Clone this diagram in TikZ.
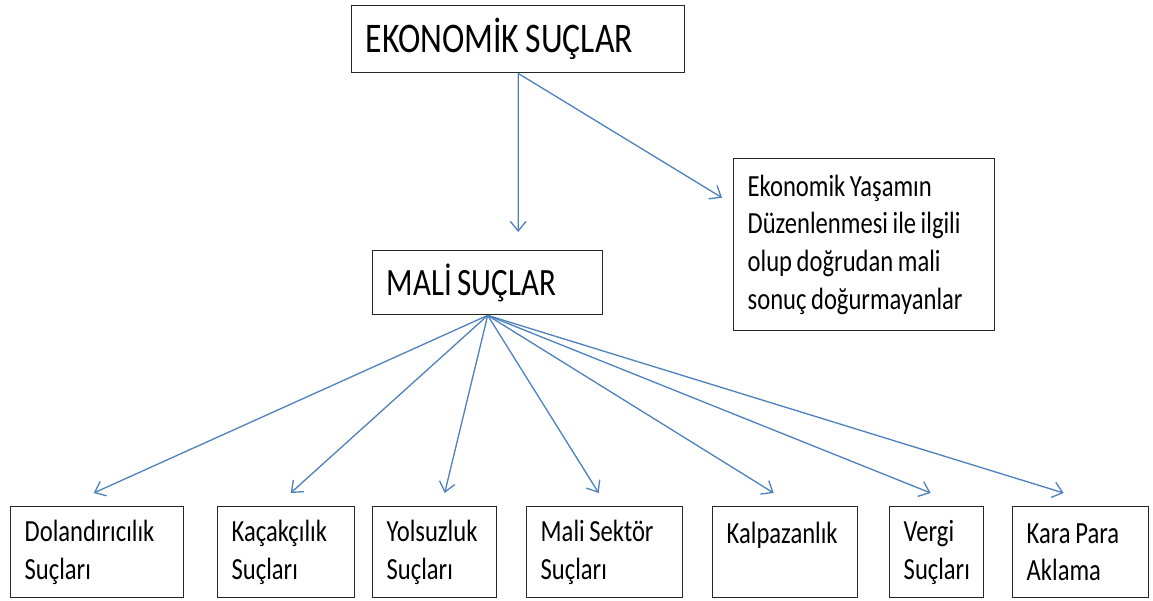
\documentclass[tikz,border=0pt]{standalone}
\usepackage{fontspec}
\setmainfont{Carlito}[FakeStretch=0.8]
\usetikzlibrary{arrows.meta,calc}
\definecolor{okmavi}{HTML}{4F81BD}

\begin{document}
\begin{tikzpicture}[x=0.02cm, y=-0.02cm,
    kutu/.style={draw=black!85, line width=0.8pt, anchor=north west, align=left, inner xsep=0.28cm, inner ysep=0pt, font=\fontsize{17.5}{21.5}\selectfont, execute at begin node={\spaceskip=0.15em\relax}},
    altkutu/.style={kutu, minimum height=1.82cm},
    ok/.style={-{Straight Barb[length=5.5pt,width=9pt]}, draw=okmavi, line width=0.75pt}
]
    \useasboundingbox (0,0) rectangle (1153,601);

    \node[kutu, text width=6.1cm, minimum height=1.34cm, font=\fontsize{24}{28}\selectfont] (ekonomik) at (351,5) {EKONOMİK SUÇLAR};
    \node[kutu, text width=4.04cm, minimum height=1.28cm, font=\fontsize{22}{26}\selectfont] (mali) at (372,250) {MALİ SUÇLAR};
    \node[kutu, text width=4.66cm, minimum height=3.44cm] (duzen) at (733,158) {Ekonomik Yaşamın\\Düzenlenmesi ile ilgili\\olup doğrudan mali\\sonuç doğurmayanlar};

    % alt satir
    \node[altkutu, text width=2.90cm] (dolan) at (10,506) {Dolandırıcılık\\Suçları};
    \node[altkutu, text width=2.18cm] (kacak) at (217,506) {Kaçakçılık\\Suçları};
    \node[altkutu, text width=1.92cm] (yolsuz) at (372,506) {Yolsuzluk\\Suçları};
    \node[altkutu, text width=2.56cm] (sektor) at (526,506) {Mali Sektör\\Suçları};
    \node[altkutu, text width=2.34cm] (kalpa) at (712,506) {Kalpazanlık\\\mbox{}};
    \node[altkutu, text width=1.32cm] (vergi) at (889,506) {Vergi\\Suçları};
    \node[altkutu, text width=2.16cm] (kara) at (1012,506) {Kara Para\\Aklama};

    \draw[ok] (ekonomik.south) -- ($(mali.north)+(30.5,-18)$);
    \draw[ok] (ekonomik.south) -- ($(duzen.west)+(-11,-47)$);

    \draw[ok] (mali.south) -- ($(dolan.north)+(-3.5,-13)$);
    \draw[ok] (mali.south) -- ($(kacak.north)+(4.5,-13)$);
    \draw[ok] (mali.south) -- ($(yolsuz.north)+(10,-13)$);
    \draw[ok] (mali.south) -- ($(sektor.north)+(-6,-13)$);
    \draw[ok] (mali.south) -- ($(kalpa.north)+(-11.5,-13)$);
    \draw[ok] (mali.south) -- ($(vergi.north)+(-6,-13)$);
    \draw[ok] (mali.south) -- ($(kara.north)+(-17,-13)$);
\end{tikzpicture}
\end{document}
